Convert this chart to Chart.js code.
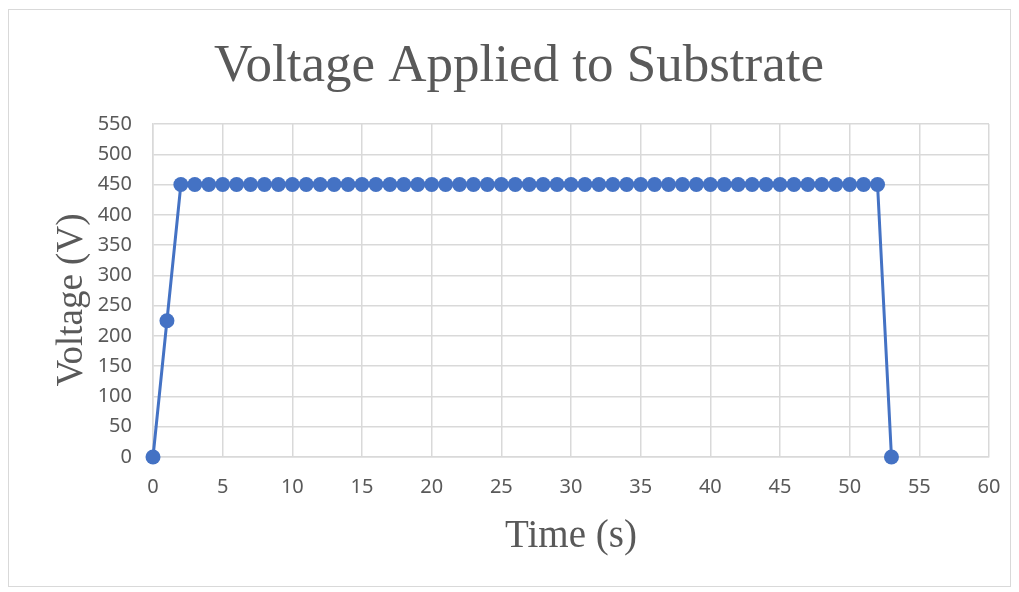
<!DOCTYPE html>
<html><head><meta charset="utf-8">
<script src="https://cdn.jsdelivr.net/npm/chart.js@4"></script>
<style>
html,body{margin:0;padding:0;background:#fff;}
#wrap{position:relative;width:1019px;height:592px;}
#frame{position:absolute;left:8px;top:9px;width:1003px;height:578px;border:1px solid #d9d9d9;box-sizing:border-box;}
canvas{position:absolute;left:0;top:0;}
</style></head>
<body>
<div id="wrap"><div id="frame"></div><canvas id="c" width="1019" height="592"></canvas></div>
<script>
const titleText = "Voltage Applied to Substrate";
const xTitle = "Time (s)";
const yTitle = "Voltage (V)";
const timeValues = [0,1,2,3,4,5,6,7,8,9,10,11,12,13,14,15,16,17,18,19,20,21,22,23,24,25,26,27,28,29,30,31,32,33,34,35,36,37,38,39,40,41,42,43,44,45,46,47,48,49,50,51,52,53];
const voltageValues = [0,225,450,450,450,450,450,450,450,450,450,450,450,450,450,450,450,450,450,450,450,450,450,450,450,450,450,450,450,450,450,450,450,450,450,450,450,450,450,450,450,450,450,450,450,450,450,450,450,450,450,450,450,0];

const points = timeValues.map((t,i)=>({x:t,y:voltageValues[i]}));

const textPlugin = {
  id:'texts',
  afterDraw(chart){
    const ctx = chart.ctx;
    const a = chart.chartArea;
    ctx.save();
    ctx.fillStyle = '#595959';
    ctx.textAlign = 'center';
    ctx.textBaseline = 'alphabetic';
    ctx.font = '53px "Liberation Serif"';
    ctx.fillText(titleText, 519, 81);
    ctx.font = '39px "Liberation Serif"';
    ctx.fillText(xTitle, 571, 547);
    ctx.font = '37px "Liberation Serif"';
    ctx.translate(82, 300);
    ctx.rotate(-Math.PI/2);
    ctx.fillText(yTitle, 0, 0);
    ctx.restore();
  }
};

new Chart(document.getElementById('c'), {
  type:'scatter',
  data:{datasets:[{
    data:points,
    showLine:true,
    clip:false,
    borderColor:'#4472C4',
    backgroundColor:'#4472C4',
    borderWidth:3,
    pointRadius:7.5,
    pointBorderWidth:0,
    pointHoverRadius:7.5,
    pointBackgroundColor:'#4472C4',
    pointBorderColor:'#4472C4'
  }]},
  options:{
    responsive:false,
    animation:false,
    devicePixelRatio:1,
    layout:{padding:{left:0,top:124,right:30,bottom:95}},
    plugins:{legend:{display:false},title:{display:false},tooltip:{enabled:false}},
    scales:{
      x:{
        type:'linear', min:0, max:60,
        ticks:{stepSize:5, color:'#595959', font:{family:'"Noto Sans"', size:20}, padding:18},
        grid:{color:'#d9d9d9', lineWidth:1.5, drawTicks:false},
        border:{color:'#d9d9d9', width:1.5},
        afterFit(s){ s.height = 40; }
      },
      y:{
        min:0, max:550,
        ticks:{stepSize:50, color:'#595959', font:{family:'"Noto Sans"', size:20}, padding:21},
        grid:{color:'#d9d9d9', lineWidth:1.5, drawTicks:false},
        border:{color:'#d9d9d9', width:1.5},
        afterFit(s){ s.width = 153; }
      }
    }
  },
  plugins:[textPlugin]
});
</script>
</body></html>
